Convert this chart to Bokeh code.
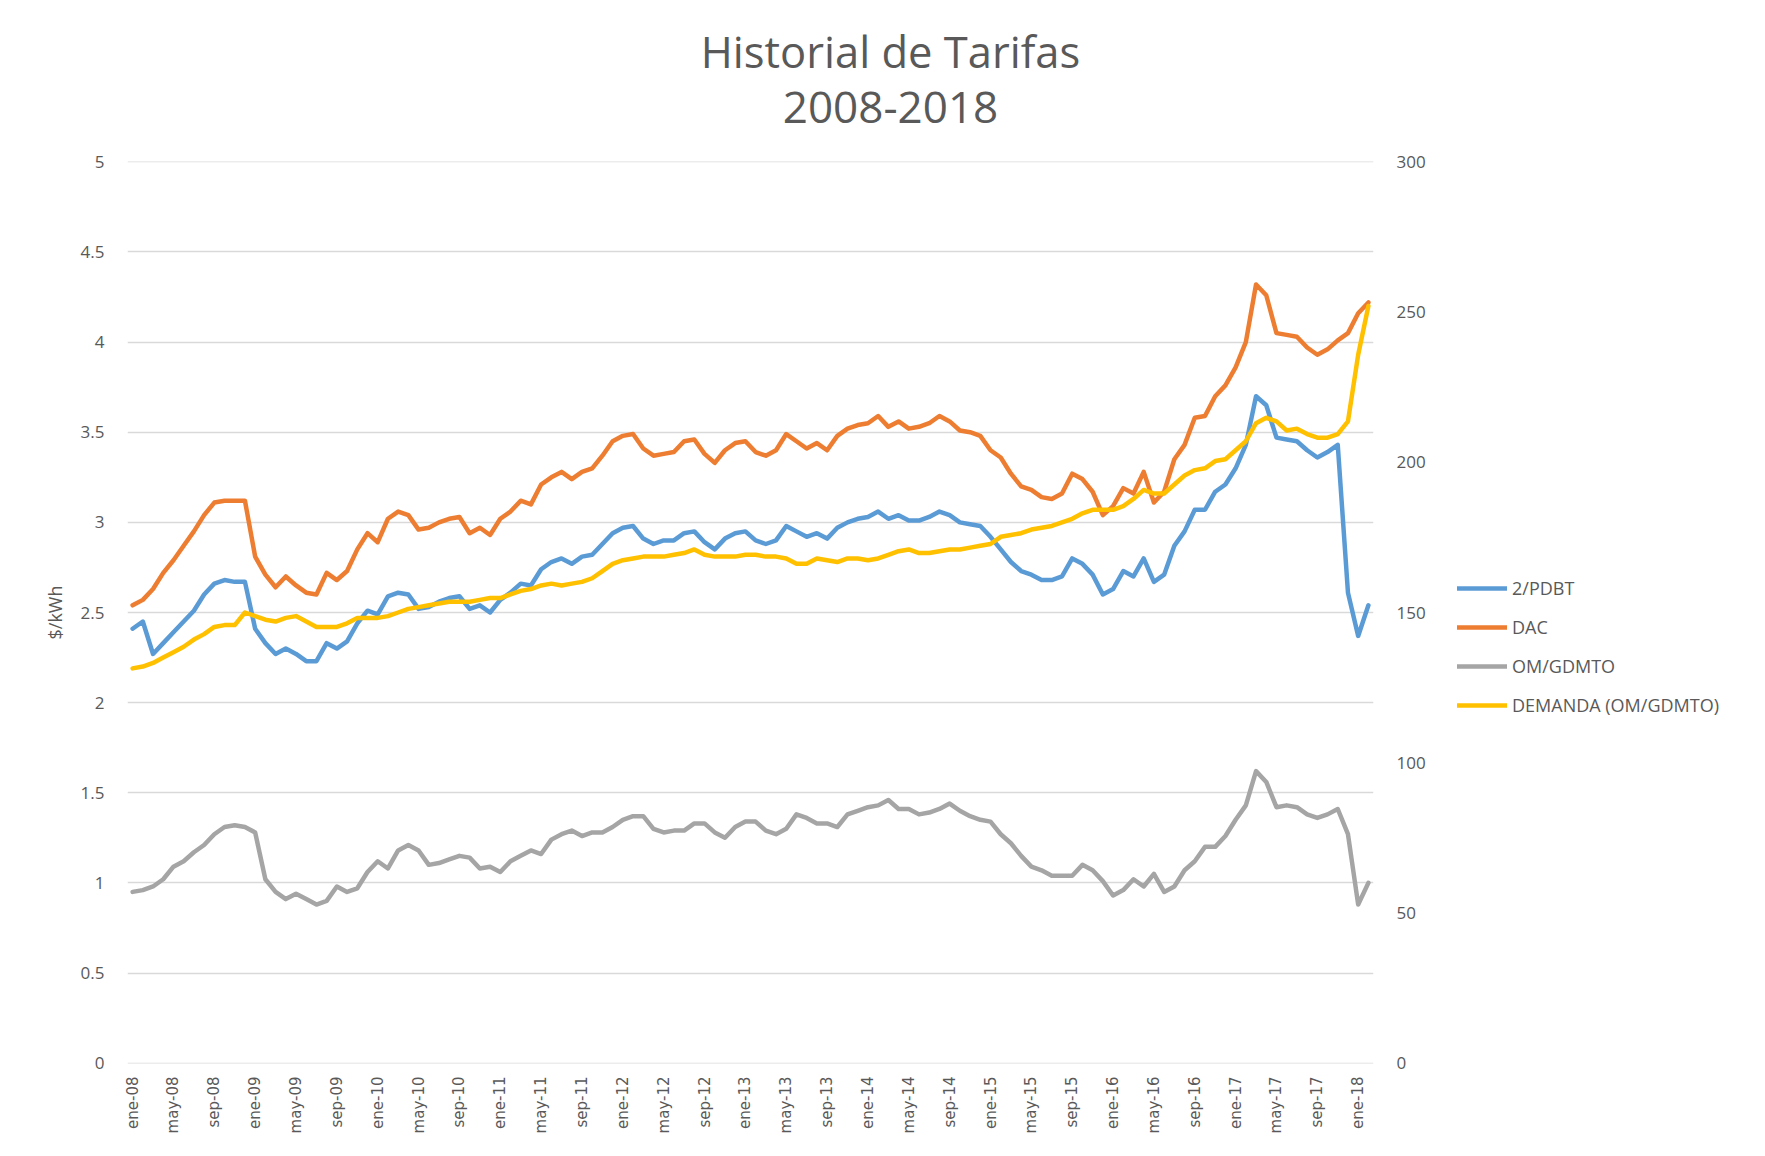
from bokeh.plotting import figure
from bokeh.layouts import row, column
from bokeh.models import (Range1d, LinearAxis, FixedTicker, NumeralTickFormatter,
                          Legend, LegendItem, Label, ColumnDataSource)
from bokeh.embed import file_html
from bokeh.resources import INLINE
import math

# ---------------- data ----------------
month_names = ["ene", "feb", "mar", "abr", "may", "jun", "jul", "ago", "sep", "oct", "nov", "dic"]
years = ["08", "09", "10", "11", "12", "13", "14", "15", "16", "17", "18"]
categories = [f"{m}-{y}" for y in years for m in month_names][:122]   # ene-08 .. feb-18

pdbt = [2.41, 2.45, 2.27, 2.33, 2.39, 2.45, 2.51, 2.60, 2.66, 2.68, 2.67, 2.67,
        2.41, 2.33, 2.27, 2.30, 2.27, 2.23, 2.23, 2.33, 2.30, 2.34, 2.44, 2.51,
        2.49, 2.59, 2.61, 2.60, 2.52, 2.53, 2.56, 2.58,
        2.59, 2.52, 2.54, 2.50, 2.57, 2.61, 2.66, 2.65, 2.74, 2.78, 2.80, 2.77,
        2.81, 2.82, 2.88, 2.94, 2.97, 2.98, 2.91, 2.88, 2.90, 2.90, 2.94, 2.95,
        2.89, 2.85, 2.91, 2.94, 2.95, 2.90, 2.88,
        2.90, 2.98, 2.95, 2.92, 2.94, 2.91, 2.97, 3.00, 3.02, 3.03, 3.06, 3.02,
        3.04, 3.01, 3.01, 3.03, 3.06, 3.04, 3.00, 2.99, 2.98, 2.92, 2.85, 2.78,
        2.73, 2.71, 2.68, 2.68, 2.70, 2.80,
        2.77, 2.71, 2.60, 2.63, 2.73, 2.70, 2.80, 2.67, 2.71, 2.87, 2.95, 3.07,
        3.07, 3.17, 3.21, 3.30, 3.43, 3.70, 3.65, 3.47, 3.46, 3.45, 3.40, 3.36,
        3.39, 3.43, 2.61, 2.37, 2.54]

dac = [2.54, 2.57, 2.63, 2.72, 2.79, 2.87, 2.95, 3.04, 3.11, 3.12, 3.12, 3.12,
       2.81, 2.71, 2.64, 2.70, 2.65, 2.61, 2.60, 2.72, 2.68, 2.73, 2.85, 2.94,
       2.89, 3.02, 3.06, 3.04, 2.96, 2.97, 3.00, 3.02,
       3.03, 2.94, 2.97, 2.93, 3.02, 3.06, 3.12, 3.10, 3.21, 3.25, 3.28, 3.24,
       3.28, 3.30, 3.37, 3.45, 3.48, 3.49, 3.41, 3.37, 3.38, 3.39, 3.45, 3.46,
       3.38, 3.33, 3.40, 3.44, 3.45, 3.39, 3.37,
       3.40, 3.49, 3.45, 3.41, 3.44, 3.40, 3.48, 3.52, 3.54, 3.55, 3.59, 3.53,
       3.56, 3.52, 3.53, 3.55, 3.59, 3.56, 3.51, 3.50, 3.48, 3.40, 3.36, 3.27,
       3.20, 3.18, 3.14, 3.13, 3.16, 3.27,
       3.24, 3.17, 3.04, 3.09, 3.19, 3.16, 3.28, 3.11, 3.17, 3.35, 3.43, 3.58,
       3.59, 3.70, 3.76, 3.86, 4.00, 4.32, 4.26, 4.05, 4.04, 4.03, 3.97, 3.93,
       3.96, 4.01, 4.05, 4.16, 4.22]

om_gdmto = [0.95, 0.96, 0.98, 1.02, 1.09, 1.12, 1.17, 1.21, 1.27, 1.31, 1.32, 1.31,
            1.28, 1.02, 0.95, 0.91, 0.94, 0.91, 0.88, 0.90, 0.98, 0.95, 0.97, 1.06,
            1.12, 1.08, 1.18, 1.21, 1.18, 1.10, 1.11, 1.13,
            1.15, 1.14, 1.08, 1.09, 1.06, 1.12, 1.15, 1.18, 1.16, 1.24, 1.27, 1.29,
            1.26, 1.28, 1.28, 1.31, 1.35, 1.37, 1.37, 1.30, 1.28, 1.29, 1.29, 1.33,
            1.33, 1.28, 1.25, 1.31, 1.34, 1.34, 1.29,
            1.27, 1.30, 1.38, 1.36, 1.33, 1.33, 1.31, 1.38, 1.40, 1.42, 1.43, 1.46,
            1.41, 1.41, 1.38, 1.39, 1.41, 1.44, 1.40, 1.37, 1.35, 1.34, 1.27, 1.22,
            1.15, 1.09, 1.07, 1.04, 1.04, 1.04,
            1.10, 1.07, 1.01, 0.93, 0.96, 1.02, 0.98, 1.05, 0.95, 0.98, 1.07, 1.12,
            1.20, 1.20, 1.26, 1.35, 1.43, 1.62, 1.56, 1.42, 1.43, 1.42, 1.38, 1.36,
            1.38, 1.41, 1.27, 0.88, 1.00]

# DEMANDA (OM/GDMTO) on the secondary (right) axis
demanda = [131.4, 132.0, 133.2, 135.0, 136.8, 138.6, 141.0, 142.8, 145.2, 145.8, 145.8, 150.0,
           148.8, 147.6, 147.0, 148.2, 148.8, 147.0, 145.2, 145.2, 145.2, 146.4, 148.2, 148.2,
           148.2, 148.8, 150.0, 151.2, 151.8, 152.4, 153.0, 153.6,
           153.6, 153.6, 154.2, 154.8, 154.8, 156.0, 157.2, 157.8, 159.0, 159.6, 159.0, 159.6,
           160.2, 161.4, 163.8, 166.2, 167.4, 168.0, 168.6, 168.6, 168.6, 169.2, 169.8, 171.0,
           169.2, 168.6, 168.6, 168.6, 169.2, 169.2, 168.6,
           168.6, 168.0, 166.2, 166.2, 168.0, 167.4, 166.8, 168.0, 168.0, 167.4, 168.0, 169.2,
           170.4, 171.0, 169.8, 169.8, 170.4, 171.0, 171.0, 171.6, 172.2, 172.8, 175.2, 175.8,
           176.4, 177.6, 178.2, 178.8, 180.0, 181.2,
           183.0, 184.2, 184.2, 184.2, 185.4, 187.8, 190.8, 189.6, 189.6, 192.6, 195.6, 197.4,
           198.0, 200.4, 201.0, 204.0, 207.0, 213.0, 214.8, 213.6, 210.6, 211.2, 209.4, 208.2,
           208.2, 209.4, 213.6, 235.8, 252.0]

left_ticks = [0, 0.5, 1, 1.5, 2, 2.5, 3, 3.5, 4, 4.5, 5]
right_ticks = [0, 50, 100, 150, 200, 250, 300]
label_every = 4

title_lines = ["Historial de Tarifas", "2008-2018"]
series_names = ["2/PDBT", "DAC", "OM/GDMTO", "DEMANDA (OM/GDMTO)"]
colors = ["#5B9BD5", "#ED7D31", "#A5A5A5", "#FFC000"]

# ---------------- geometry ----------------
TXT = "#595959"
n = len(categories)
idx = list(range(n))
W, H, T = 1757, 1148, 140      # total width, total height, title band height
PW = 1440                       # width of the chart part (legend to its right)


def bare(width, height):
    f = figure(width=width, height=height, output_backend="svg", toolbar_location=None,
               x_range=Range1d(0, 1), y_range=Range1d(0, 1),
               x_axis_location=None, y_axis_location=None, min_border=0)
    f.grid.visible = False
    f.outline_line_color = None
    f.background_fill_color = "white"
    f.border_fill_color = "white"
    return f


# ---------------- title band ----------------
t = bare(W, T)
for txt, yy, fs in [(title_lines[0], T - 51, "43.5px"), (title_lines[1], T - 107, "44px")]:
    t.add_layout(Label(x=890, y=yy, x_units="screen", y_units="screen", text=txt,
                       text_align="center", text_baseline="middle",
                       text_font="Open Sans", text_font_size=fs, text_color=TXT))

# ---------------- main chart ----------------
p = figure(width=PW, height=H - T, output_backend="svg", toolbar_location=None,
           x_range=Range1d(-0.5, n - 0.5), y_range=Range1d(-0.002, 5.002),
           min_border_left=127, min_border_right=67, min_border_top=161 - T,
           min_border_bottom=85)
p.extra_y_ranges = {"right": Range1d(-0.12, 300.12)}
p.outline_line_color = None
p.background_fill_color = "white"
p.border_fill_color = "white"

src = ColumnDataSource(dict(x=idx, pdbt=pdbt, dac=dac, om=om_gdmto, dem=demanda))

kw = dict(source=src, line_width=4.5, line_join="round", line_cap="round")
r1 = p.line("x", "pdbt", line_color=colors[0], **kw)
r2 = p.line("x", "dac", line_color=colors[1], **kw)
r3 = p.line("x", "om", line_color=colors[2], **kw)
r4 = p.line("x", "dem", line_color=colors[3], y_range_name="right", **kw)

# x axis
xt = list(range(0, n, label_every))
p.xaxis.ticker = FixedTicker(ticks=xt)
p.xaxis.major_label_overrides = {i: categories[i] for i in xt}
p.xaxis.major_label_orientation = math.pi / 2
p.xaxis.major_label_text_font = "DejaVu Sans"
p.xaxis.major_label_text_font_size = "15px"
p.xaxis.major_label_text_color = TXT
p.xaxis.axis_line_color = None
p.xaxis.major_tick_line_color = None
p.xaxis.minor_tick_line_color = None
p.xaxis.major_label_standoff = 7

# left axis
p.yaxis.ticker = FixedTicker(ticks=left_ticks)
p.yaxis.formatter = NumeralTickFormatter(format="0.[0]")
p.yaxis.major_label_text_font = "Open Sans"
p.yaxis.major_label_text_font_size = "17px"
p.yaxis.major_label_text_color = TXT
p.yaxis.axis_line_color = None
p.yaxis.major_tick_line_color = None
p.yaxis.minor_tick_line_color = None
p.yaxis.major_label_standoff = 17
p.yaxis.axis_label = "$/kWh"
p.yaxis.axis_label_text_font = "Open Sans"
p.yaxis.axis_label_text_font_size = "18px"
p.yaxis.axis_label_text_font_style = "normal"
p.yaxis.axis_label_text_color = TXT
p.yaxis.axis_label_standoff = 11

# right axis
ra = LinearAxis(y_range_name="right", ticker=FixedTicker(ticks=right_ticks))
ra.major_label_text_font = "Open Sans"
ra.major_label_text_font_size = "17px"
ra.major_label_text_color = TXT
ra.axis_line_color = None
ra.major_tick_line_color = None
ra.minor_tick_line_color = None
ra.major_label_standoff = 17
p.add_layout(ra, "right")

# grid
p.xgrid.visible = False
p.ygrid.ticker = FixedTicker(ticks=left_ticks)
p.ygrid.grid_line_color = "#D9D9D9"
p.ygrid.grid_line_width = 1.5

# ---------------- legend panel ----------------
q = bare(W - PW, H - T)
# proxy lines kept outside the visible range: only their legend swatches show
dummies = [q.line(x=[5, 6], y=[5, 6], line_color=c, line_width=4.5, line_cap="round")
           for c in colors]
legend = Legend(items=[LegendItem(label=series_names[i], renderers=[r])
                       for i, r in enumerate(dummies)],
                location=(17, 346), orientation="vertical",
                glyph_width=50, glyph_height=20, label_height=20,
                label_standoff=5, spacing=15, padding=0, margin=0,
                border_line_color=None, background_fill_alpha=0,
                label_text_font="Open Sans", label_text_font_size="18px",
                label_text_color=TXT)
q.add_layout(legend, "center")

layout = column(t, row(p, q))
open("out.html", "w").write(file_html(layout, INLINE))
